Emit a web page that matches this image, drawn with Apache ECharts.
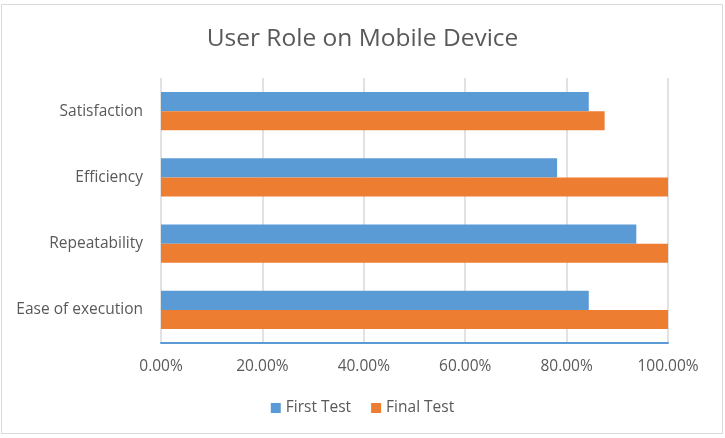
<!DOCTYPE html>
<html><head><meta charset="utf-8">
<script src="https://cdn.jsdelivr.net/npm/echarts@6/dist/echarts.min.js"></script>
<style>html,body{margin:0;padding:0;background:#fff}#c{width:725px;height:438px}</style>
</head><body><div id="c"></div>
<script>
const categories = ['Ease of execution', 'Repeatability', 'Efficiency', 'Satisfaction'];
const firstTest = [0.84375, 0.9375, 0.78125, 0.84375];
const finalTest = [1.0, 1.0, 1.0, 0.875];
const seriesNames = ['First Test', 'Final Test'];
const tickValues = [0, 0.2, 0.4, 0.6, 0.8, 1.0];

const chart = echarts.init(document.getElementById('c'), null, {renderer: 'canvas'});
const font = 'Open Sans';
chart.setOption({
  animation: false,
  backgroundColor: '#fff',
  graphic: [{type: 'rect', shape: {x: 1.5, y: 4.5, width: 721, height: 429}, style: {fill: 'none', stroke: '#d9d9d9', lineWidth: 1}, silent: true}],
  title: {text: 'User Role on Mobile Device', left: 'center', top: 22,
    textStyle: {fontFamily: font, fontSize: 24.5, fontWeight: 'normal', color: '#595959'}},
  legend: {bottom: 17, left: 'center', itemWidth: 10, itemHeight: 10, itemGap: 20, icon: 'rect',
    textStyle: {fontFamily: font, fontSize: 15.5, color: '#595959'}, data: seriesNames},
  grid: {left: 161, right: 57, top: 78, bottom: 95, containLabel: false},
  xAxis: {type: 'value', min: 0, max: 1, interval: 0.2,
    axisLine: {show: true, lineStyle: {color: '#5B9BD5', width: 2}},
    axisTick: {show: false},
    splitLine: {show: true, lineStyle: {color: '#d9d9d9', width: 1.5}},
    axisLabel: {fontFamily: font, fontSize: 15.5, color: '#595959', margin: 16,
      formatter: v => (v * 100).toFixed(2) + '%'}},
  yAxis: {type: 'category', data: categories,
    axisLine: {show: false}, axisTick: {show: false},
    axisLabel: {fontFamily: font, fontSize: 15.5, color: '#595959', margin: 18}},
  series: [
    {name: seriesNames[0], type: 'bar', data: firstTest, itemStyle: {color: '#5B9BD5'}, barGap: '0%', barCategoryGap: '42.6%'},
    {name: seriesNames[1], type: 'bar', data: finalTest, itemStyle: {color: '#ED7D31'}, barGap: '0%', barCategoryGap: '42.6%'}
  ]
});
</script></body></html>
